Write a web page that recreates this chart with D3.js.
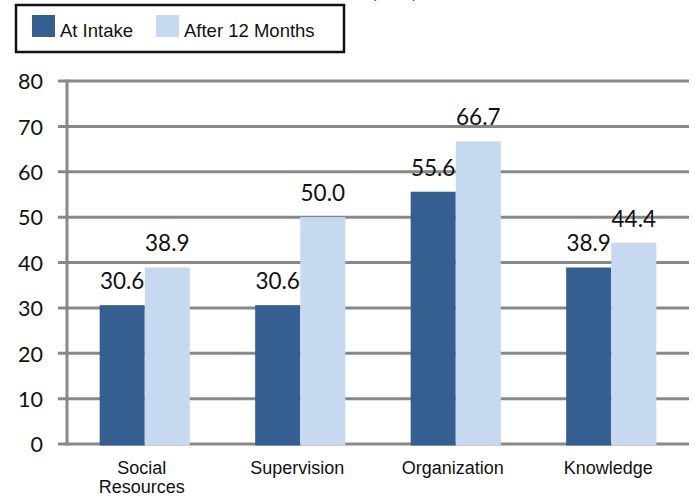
<!DOCTYPE html>
<html><head><meta charset="utf-8">
<script src="https://cdn.jsdelivr.net/npm/d3@7"></script>
<style>body{margin:0;background:#fff}svg{display:block}</style>
</head><body>
<svg id="c" width="695" height="498"></svg>
<script>
const categories = [["Social","Resources"],["Supervision"],["Organization"],["Knowledge"]];
const seriesNames = ["At Intake","After 12 Months"];
const intake = [30.6, 30.6, 55.6, 38.9];
const after12 = [38.9, 50.0, 66.7, 44.4];
const yTicks = [0,10,20,30,40,50,60,70,80];
const colors = ["#365F91","#C6D9F1"];

const svg = d3.select("#c");
const mLeft = 67, mRight = 689, mTop = 81, mBottom = 444;
const catKeys = categories.map(c => c.join(" "));
const values = [intake, after12];

const y = d3.scaleLinear().domain([0,80]).range([mBottom, mTop]);
const x = d3.scaleBand().domain(catKeys).range([mLeft, mRight]).padding(0);
const groupW = x.bandwidth() * 0.58;
const x1 = d3.scaleBand().domain(seriesNames).range([0, groupW]).padding(0);

// cut-off title remnant (only descenders visible in the reference)
svg.append("text").attr("x", 371).attr("y", -2).attr("font-family","Liberation Sans, Arial, sans-serif")
  .attr("font-size", 16).attr("fill", "#3333cc").text("(n=18)");

// gridlines
svg.append("g").selectAll("line").data(yTicks).join("line")
  .attr("x1", mLeft - 9).attr("x2", mRight)
  .attr("y1", d => y(d)).attr("y2", d => y(d))
  .attr("stroke", "#888888").attr("stroke-width", 3);

// y tick labels via axis
const yAxis = svg.append("g").attr("transform", `translate(${mLeft - 24},0)`)
  .call(d3.axisLeft(y).tickValues(yTicks).tickSize(0).tickPadding(0));
yAxis.select(".domain").remove();
yAxis.selectAll("text").attr("font-family","Lato, 'Open Sans', sans-serif").attr("font-size", 21.5)
  .attr("fill", "#111").attr("dy", "0.36em");

// bars
const data = [];
catKeys.forEach((c, i) => seriesNames.forEach((s, j) => data.push({c, s, j, v: values[j][i]})));
const gx = c => x(c) + (x.bandwidth() - groupW) / 2;
svg.append("g").selectAll("rect").data(data).join("rect")
  .attr("x", d => gx(d.c) + x1(d.s))
  .attr("width", x1.bandwidth())
  .attr("y", d => y(d.v))
  .attr("height", d => y(0) + 1.5 - y(d.v))
  .attr("fill", d => colors[d.j]);

// y axis line
svg.append("line").attr("x1", mLeft).attr("x2", mLeft).attr("y1", mTop - 1.5).attr("y2", mBottom + 1.5)
  .attr("stroke", "#888888").attr("stroke-width", 3);

// value labels
svg.append("g").selectAll("text").data(data).join("text")
  .attr("x", d => gx(d.c) + x1(d.s) + x1.bandwidth() / 2)
  .attr("y", d => y(d.v) - 16)
  .attr("text-anchor", "middle")
  .attr("font-family","Lato, 'Open Sans', sans-serif").attr("font-size", 22.5).attr("fill", "#111")
  .text(d => d.v.toFixed(1));

// category labels
const cat = svg.append("g").selectAll("text").data(categories).join("text")
  .attr("x", (d, i) => x(catKeys[i]) + x.bandwidth() / 2 - 3)
  .attr("y", 474)
  .attr("text-anchor", "middle")
  .attr("font-family","Liberation Sans, Arial, sans-serif").attr("font-size", 18).attr("fill", "#111");
cat.selectAll("tspan").data(d => d).join("tspan")
  .attr("x", function(){ return this.parentNode.getAttribute("x"); })
  .attr("dy", (d, i) => i === 0 ? 0 : 19)
  .text(d => d);

// legend
const lg = svg.append("g");
lg.append("rect").attr("x", 16).attr("y", 5).attr("width", 328).attr("height", 47)
  .attr("fill", "#fff").attr("stroke", "#111").attr("stroke-width", 2.5);
const legX = [32, 156];
const li = lg.selectAll("g.item").data(seriesNames).join("g").attr("class","item")
  .attr("transform", (d, i) => `translate(${legX[i]},15)`);
li.append("rect").attr("width", 23).attr("height", 22).attr("fill", (d, i) => colors[i]);
li.append("text").attr("x", 28).attr("y", 22)
  .attr("font-family","Liberation Sans, Arial, sans-serif").attr("font-size", 18.5).attr("fill", "#111")
  .text(d => d);
</script>
</body></html>
